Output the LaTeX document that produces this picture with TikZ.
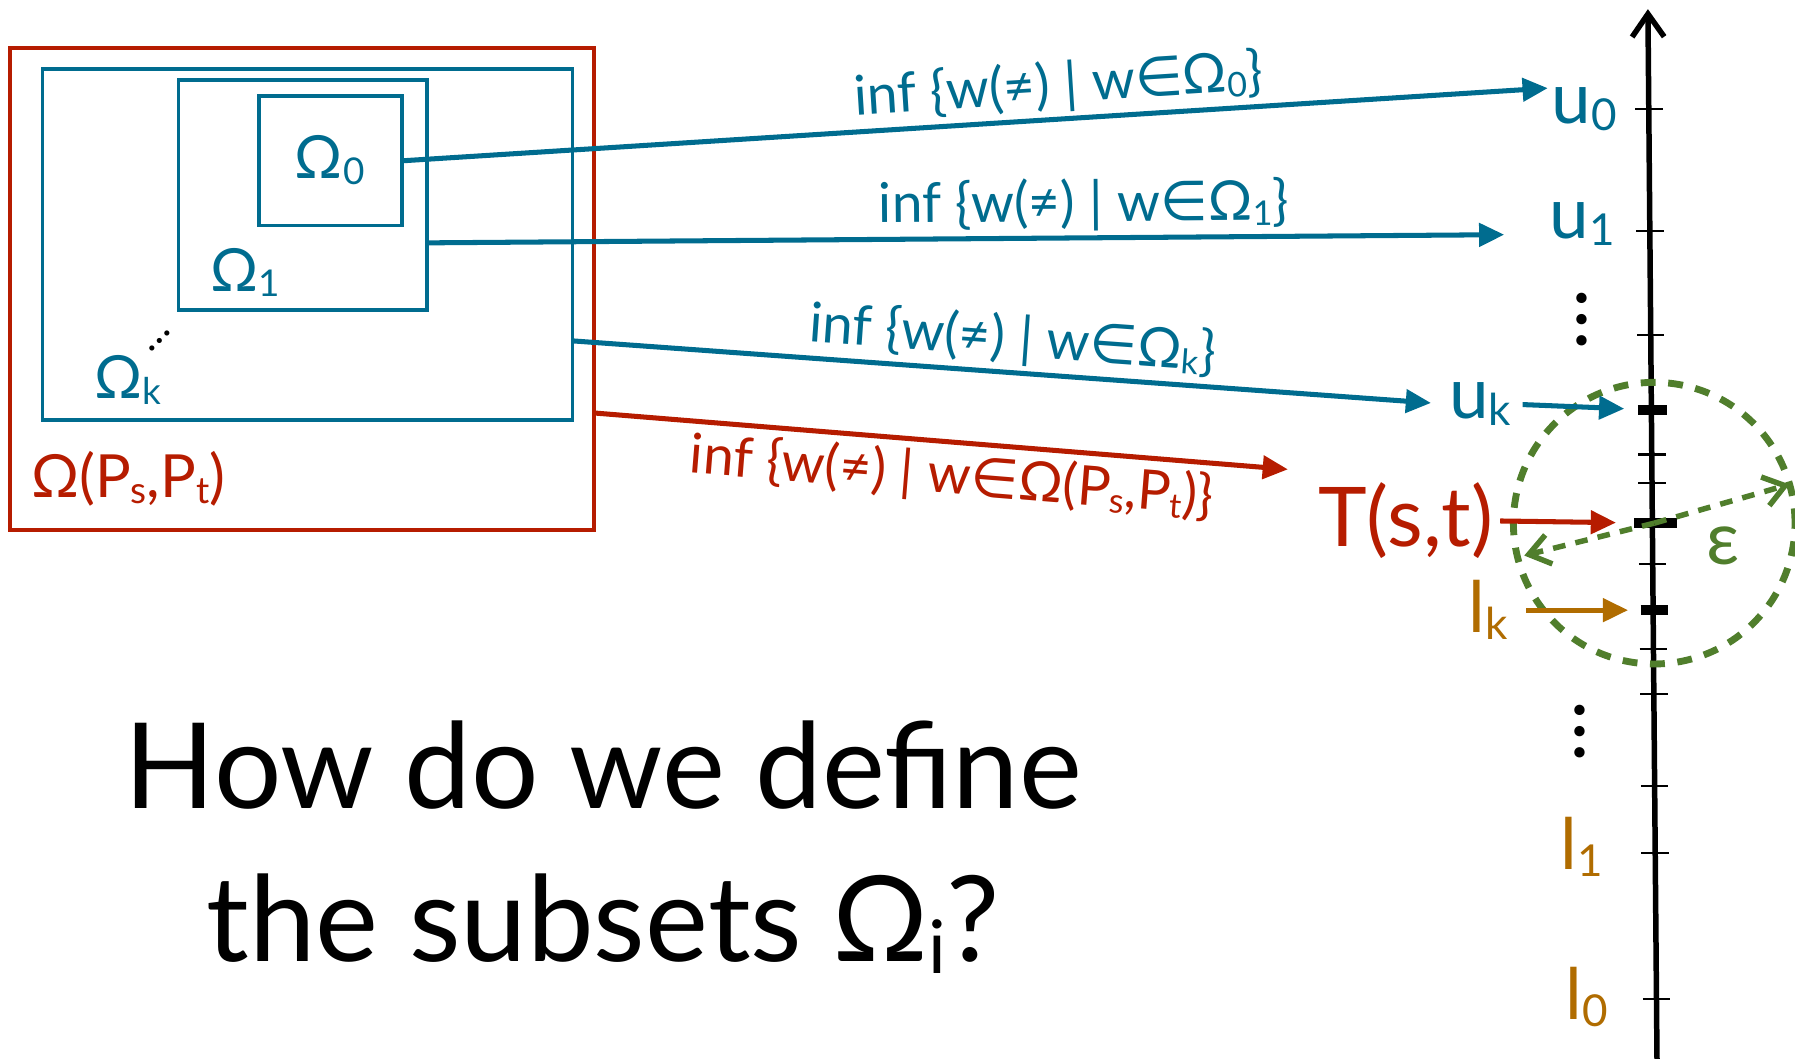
\documentclass[tikz,border=0pt]{standalone}
\usepackage{fontspec}
\setmainfont{Lato}
\newfontfamily\symf{DejaVu Sans}
\usetikzlibrary{arrows.meta,positioning,shapes.geometric,calc}

\definecolor{setblue}{RGB}{0,108,143}
\definecolor{setred}{RGB}{182,28,0}
\definecolor{lowbrown}{RGB}{176,108,0}
\definecolor{epsgreen}{RGB}{80,126,44}

% small lowered index, as in the slide font
\newcommand{\dn}[1]{\raisebox{-0.1em}{\scalebox{0.62}{#1}}}
\newcommand{\infw}[1]{inf \{w(≠) | w{\symf ∈}#1\}}

\begin{document}
\begin{tikzpicture}[x=0.5pt,y=-0.5pt,
  every node/.style={inner sep=0pt,outer sep=0pt},
  setb/.style={draw=setblue,line width=1.6pt},
  setr/.style={draw=setred,line width=1.6pt},
  arr/.style={line width=2.2pt,-{Triangle[length=11pt,width=10pt]}},
  barr/.style={arr,setblue},
  rarr/.style={arr,setred},
  oarr/.style={arr,lowbrown},
  garr/.style={line width=2.4pt,epsgreen,dash pattern=on 5.5pt off 4.5pt,
               -{Straight Barb[length=9pt,width=13pt]}},
  lbl/.style={font=\fontsize{24}{27}\selectfont,sloped},
  setlbl/.style={font=\fontsize{26}{30}\selectfont},
  bound/.style={font=\fontsize{31}{34}\selectfont},
  tk/.style={line width=0.9pt},
  tkb/.style={line width=4.5pt},
  vdots/.style={font=\fontsize{36}{36}\selectfont,rotate=90}
]
\useasboundingbox (0,0) rectangle (1568,925);

% Nested sets.
\node[setr,minimum width=255pt,minimum height=210.5pt] (omp) at (264,252.5) {};
\node[setb,minimum width=231.5pt,minimum height=153.5pt] (omk) at (268.5,213.5) {};
\node[setb,minimum width=108.5pt,minimum height=100.5pt] (om1) at (264.5,170.5) {};
\node[setb,minimum width=62.5pt,minimum height=56.5pt] (om0) at (288.5,140.5) {};
\node[setlbl,setblue] (lom0) at (288,140) {Ω\dn{0}};
\node[setlbl,setblue] (lom1) at (214,238) {Ω\dn{1}};
\node[setlbl,setblue] (lomk) at (112,332) {Ω\dn{k}};
\node[font=\fontsize{18}{18}\selectfont,rotate=45] (ddots) at (140,298) {…};
\node[setlbl,setred] (lomp) at (112,418) {Ω(P\dn{s},P\dn{t})};

% Value axis.
\coordinate (axb) at (1447.5,932);
\coordinate (axt) at (1439.5,8);
\draw[line width=2.4pt,-{Straight Barb[length=10pt,width=14pt]}] (axb) -- (axt);
\foreach \y in {95,202,293,397,422,493,567,606,687,745,873}
  \draw[tk] ({1447.5-8*(932-\y)/924-12},\y) -- ++(24,0);
\coordinate (tuk) at (1442.8,358);
\coordinate (tts) at (1443.6,457);
\coordinate (tlk) at (1444.2,533);
\draw[tkb] ($(tuk)+(-12,0)$) -- ($(tuk)+(13,0)$);
\draw[tkb] ($(tts)+(-16,0)$) -- ($(tts)+(21,0)$);
\draw[tkb] ($(tlk)+(-11,0)$) -- ($(tlk)+(13,0)$);

% Bounds on the axis.
\node[bound,setblue] (u0) at (1384,95) {u\dn{0}};
\node[bound,setblue] (u1) at (1382,196) {u\dn{1}};
\node[vdots] (udots) at (1382,279) {…};
\node[bound,setblue] (uk) at (1293,353) {u\dn{k}};
\node[font=\fontsize{36}{40}\selectfont,setred] (ts) at (1228,455) {T(s,t)};
\node[bound,lowbrown] (lk) at (1300,533) {l\dn{k}};
\node[vdots] (ldots) at (1380,639) {…};
\node[bound,lowbrown] (l1) at (1382,740) {l\dn{1}};
\node[bound,lowbrown] (l0) at (1386,871) {l\dn{0}};

% Tolerance ball round T(s,t).
\node[circle,draw=epsgreen,line width=3pt,dash pattern=on 6.5pt off 5.5pt,
      minimum size=123pt] (ball) at (1445,457) {};
\node[font=\fontsize{32}{34}\selectfont,epsgreen] (eps) at (1505,477) {ε};
\draw[garr] (ball.center) -- (ball.16);
\draw[garr,shorten >=3pt] (ball.center) -- (ball.194);

% Infima mapped to the axis.
\coordinate (e0) at (1352,77);
\coordinate (e1) at (1314,205);
\coordinate (ek) at (1250,352);
\coordinate (ep) at (1125,410);
\draw[barr] (om0.east) -- node[lbl,pos=0.575,above=3pt] {\infw{Ω\dn{0}}} (e0);
\draw[barr] (om1.-21.4) -- node[lbl,pos=0.61,above=3pt] {\infw{Ω\dn{1}}} (e1);
\draw[barr] (omk.-20.9) -- node[lbl,pos=0.51,above=3pt] {\infw{Ω\dn{k}}} (ek);
\draw[rarr] (omp.-23.6) -- node[lbl,pos=0.52,below=4pt] {\infw{Ω(P\dn{s},P\dn{t})}} (ep);

\draw[barr,shorten <=5pt,shorten >=12pt] (uk.east) -- (tuk);
\draw[rarr,shorten <=3pt,shorten >=16pt] (ts.east) -- (tts);
\draw[oarr,shorten <=8pt,shorten >=11pt] (lk.east) -- (tlk);

% Question.
\node[font=\fontsize{52}{66.5}\selectfont,align=center,anchor=north] (quest)
  at (527,630) {How do we define\\the subsets Ω\dn{i}?};
\end{tikzpicture}
\end{document}
